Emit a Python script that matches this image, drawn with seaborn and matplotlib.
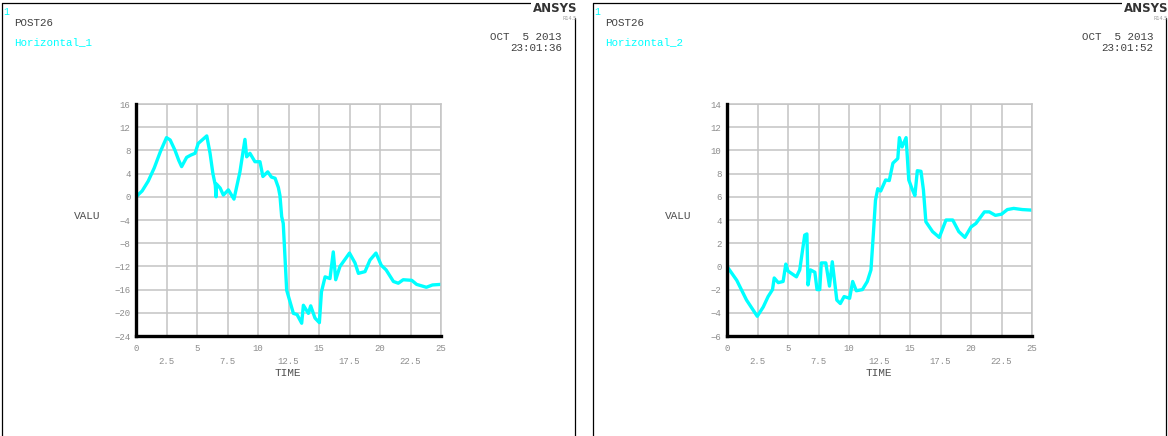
import matplotlib.pyplot as plt
import numpy as np
import pandas as pd
import seaborn as sns
from matplotlib.lines import Line2D

# Horizontal_1 time history
time_1 = [0.0, 0.5, 1.0, 1.5, 2.0, 2.5, 2.8, 3.2, 3.5, 3.74, 4.15, 4.5, 4.84, 5.1, 5.8,
          6.07, 6.3, 6.5, 6.56, 6.6, 6.9, 7.16, 7.57, 8.03, 8.52, 8.93, 9.07, 9.34, 9.75,
          10.16, 10.4, 10.8, 11.1, 11.4, 11.67, 11.8, 11.94, 12.07, 12.35, 12.9, 13.2,
          13.58, 13.72, 14.13, 14.32, 14.67, 15.03, 15.2, 15.5, 15.9, 16.17, 16.37,
          16.72, 17.5, 17.95, 18.23, 18.77, 19.18, 19.67, 20.1, 20.5, 21.1, 21.5,
          21.9, 22.6, 23.0, 23.8, 24.3, 25.0]
value_1 = [0.0, 1.0, 2.7, 5.0, 7.8, 10.2, 9.8, 8.0, 6.3, 5.2, 6.8, 7.2, 7.5, 9.2, 10.5,
           7.5, 4.05, 2.0, 0.0, 2.2, 1.5, 0.3, 1.2, -0.4, 4.3, 9.9, 6.9, 7.5, 6.05,
           6.05, 3.5, 4.3, 3.4, 3.2, 1.6, 0.2, -3.4, -4.6, -16.1, -20.1, -20.3,
           -21.8, -18.7, -20.1, -18.8, -20.9, -21.7, -16.4, -13.8, -14.1, -9.5, -14.3,
           -12.0, -9.7, -11.4, -13.2, -12.9, -10.9, -9.7, -11.8, -12.6, -14.6, -14.9,
           -14.3, -14.4, -15.1, -15.6, -15.2, -15.1]

# Horizontal_2 time history
time_2 = [0.0, 0.8, 1.6, 2.48, 2.97, 3.37, 3.73, 3.87, 4.2, 4.6, 4.82, 5.0, 5.69, 5.96,
          6.37, 6.55, 6.64, 6.84, 7.2, 7.38, 7.6, 7.73, 8.1, 8.4, 8.63, 9.0, 9.29, 9.6,
          10.05, 10.3, 10.6, 11.1, 11.5, 11.8, 12.0, 12.17, 12.36, 12.6, 13.0, 13.3,
          13.6, 14.0, 14.13, 14.35, 14.68, 14.9, 15.2, 15.4, 15.6, 15.9, 16.1, 16.3,
          16.85, 17.4, 17.95, 18.5, 19.0, 19.5, 20.0, 20.4, 21.1, 21.5, 22.0, 22.5,
          22.98, 23.5, 24.2, 25.0]
value_2 = [0.0, -1.2, -2.9, -4.3, -3.5, -2.6, -2.0, -1.0, -1.4, -1.3, 0.2, -0.4, -0.9, -0.3,
           2.7, 2.8, -1.6, -0.3, -0.5, -2.0, -2.0, 0.3, 0.3, -1.7, 0.4, -2.9, -3.2, -2.6,
           -2.75, -1.3, -2.1, -2.0, -1.3, -0.3, 2.85, 5.7, 6.7, 6.5, 7.45, 7.4,
           8.9, 9.3, 11.1, 10.3, 11.1, 7.45, 6.6, 6.1, 8.25, 8.2, 6.6, 3.85,
           3.0, 2.5, 4.0, 4.0, 3.0, 2.5, 3.4, 3.7, 4.7, 4.7, 4.4, 4.5,
           4.9, 5.0, 4.9, 4.85]

panels = [
    dict(t=time_1, v=value_1, name="Horizontal_1", clock="23:01:36",
         ylim=(-24, 16), ystep=4, x0=0, ax_left=136),
    dict(t=time_2, v=value_2, name="Horizontal_2", clock="23:01:52",
         ylim=(-6, 14), ystep=2, x0=591, ax_left=727),
]

sns.set_style("white")
plt.rcParams['font.family'] = ['Liberation Mono', 'DejaVu Sans Mono']

W, H = 1168, 436
fig = plt.figure(figsize=(W / 100, H / 100), dpi=100)


def fx(x):
    return x / W


def fy(y):
    return 1 - y / H


GRID = '#c4c4c4'
TICK = '#8c8c8c'
CYAN = '#00ffff'

for p in panels:
    x0 = p['x0']
    # frame around the window
    fig.add_artist(Line2D([fx(x0 + 1.5), fx(x0 + 1.5)], [fy(3), fy(H)], color='black', lw=0.9))
    fig.add_artist(Line2D([fx(x0 + 1.5), fx(x0 + 575)], [fy(3), fy(3)], color='black', lw=0.9))
    fig.add_artist(Line2D([fx(x0 + 575), fx(x0 + 575)], [fy(18), fy(H)], color='black', lw=0.9))

    fig.text(fx(x0 + 3), fy(12), "1", color=CYAN, fontsize=7, va='center')
    fig.text(fx(x0 + 14), fy(23), "POST26", color='#404040', fontsize=7.8, va='center')
    fig.text(fx(x0 + 14), fy(42), p['name'], color=CYAN, fontsize=7.8, va='center')
    fig.text(fx(x0 + 562), fy(37), "OCT  5 2013", color='#404040', fontsize=7.8,
             va='center', ha='right')
    fig.text(fx(x0 + 562), fy(48), p['clock'], color='#404040', fontsize=7.8,
             va='center', ha='right')
    fig.text(fx(x0 + 577), fy(9), "ANSYS", color='#333333', fontsize=8.5,
             fontweight='bold', family='DejaVu Sans', va='center', ha='right',
             bbox=dict(facecolor='white', edgecolor='none', pad=1))
    fig.text(fx(x0 + 577), fy(18), "R14.5", color='#999999', fontsize=3.5,
             family='DejaVu Sans', va='center', ha='right')

    al = p['ax_left']
    ax = fig.add_axes([fx(al), fy(336), (441 - 136) / W, 232 / H])
    df = pd.DataFrame({'TIME': p['t'], 'VALU': p['v']})
    sns.lineplot(data=df, x='TIME', y='VALU', ax=ax, sort=False, estimator=None,
                 color=CYAN, lw=2.4)

    ax.set_xlim(0, 25)
    ax.set_ylim(*p['ylim'])
    ax.set_xticks(np.arange(0, 25.1, 5))
    ax.set_xticks(np.arange(2.5, 25, 5), minor=True)
    ax.set_xticklabels([f"{v:g}" for v in np.arange(0, 25.1, 5)])
    ax.set_xticklabels([f"{v:g}" for v in np.arange(2.5, 25, 5)], minor=True)
    ax.set_yticks(np.arange(p['ylim'][0], p['ylim'][1] + 0.1, p['ystep']))
    ax.tick_params(axis='x', which='major', length=0, pad=6, labelsize=6.5, labelcolor=TICK)
    ax.tick_params(axis='x', which='minor', length=0, pad=15, labelsize=6.5, labelcolor=TICK)
    ax.tick_params(axis='y', length=3, width=0.8, color=TICK, pad=1,
                   labelsize=6.5, labelcolor=TICK)
    ax.grid(True, which='both', color=GRID, lw=1.1)
    ax.set_axisbelow(True)

    for side in ['top', 'right']:
        ax.spines[side].set_color(GRID)
        ax.spines[side].set_linewidth(1.1)
    for side in ['left', 'bottom']:
        ax.spines[side].set_color('black')
        ax.spines[side].set_linewidth(2.4)
        ax.spines[side].set_zorder(5)

    ax.set_xlabel("")
    ax.set_ylabel("")
    fig.text(fx(al + 152), fy(373), "TIME", color='#505050', fontsize=8,
             va='center', ha='center')
    fig.text(fx(x0 + 87), fy(216), "VALU", color='#505050', fontsize=8,
             va='center', ha='center')

fig.savefig('out.png', dpi=100, facecolor='white')
